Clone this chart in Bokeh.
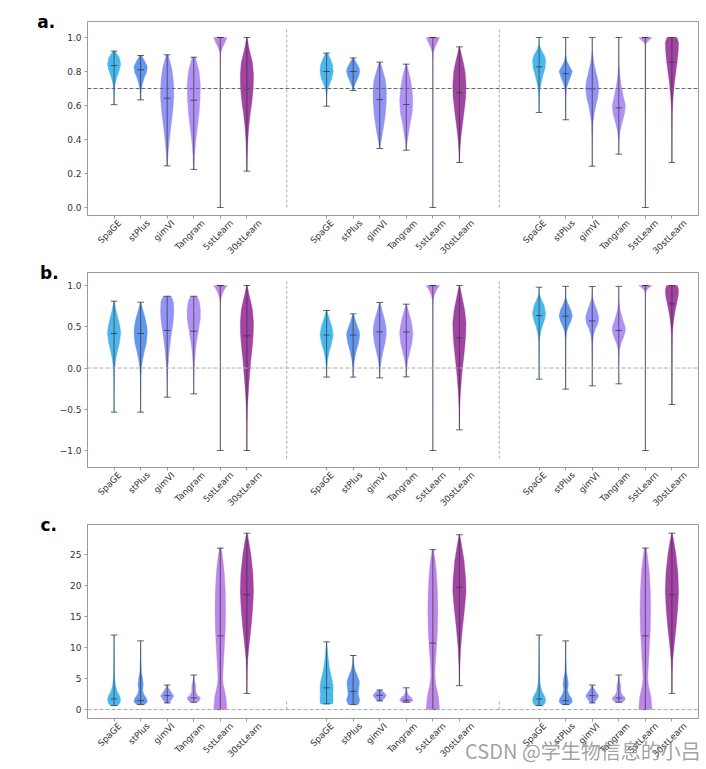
import math
from bokeh.plotting import figure
from bokeh.models import (Range1d, FixedTicker, LinearAxis, Span,
                          CustomJSTickFormatter, ColumnDataSource)
from bokeh.layouts import column
from bokeh.embed import file_html
from bokeh.resources import INLINE

# ---------------- data ----------------
methods = ["SpaGE", "stPlus", "gimVI", "Tangram", "5stLearn", "30stLearn"]
method_colors = ["#41b4ec", "#5b91ec", "#8c8ef5", "#ac8cf6", "#ba7fe8", "#9d3a9f"]

# panel a
a_max = [0.92, 0.894, 0.898, 0.884, 1.0, 1.0,
         0.908, 0.88, 0.855, 0.843, 1.0, 0.945,
         1.0, 1.0, 1.0, 1.0, 1.0, 1.0]
a_min = [0.605, 0.633, 0.245, 0.224, 0.0, 0.214,
         0.596, 0.688, 0.347, 0.337, 0.0, 0.265,
         0.559, 0.516, 0.243, 0.314, 0.0, 0.265]
a_med = [0.835, 0.81, 0.643, 0.631, 1.0, 0.698,
         0.80, 0.80, 0.635, 0.606, 1.0, 0.675,
         0.827, 0.788, 0.698, 0.586, 1.0, 0.855]
a_shapes = [
    [(0.605, 0.02), (0.644, 0.03), (0.684, 0.06), (0.723, 0.15), (0.763, 0.4), (0.802, 0.75), (0.841, 1.0), (0.881, 0.8), (0.92, 0.15)],
    [(0.633, 0.03), (0.666, 0.05), (0.698, 0.12), (0.731, 0.3), (0.764, 0.55), (0.796, 0.9), (0.829, 1.0), (0.861, 0.6), (0.894, 0.15)],
    [(0.245, 0.05), (0.327, 0.15), (0.408, 0.35), (0.49, 0.6), (0.571, 0.85), (0.653, 1.0), (0.735, 0.95), (0.816, 0.7), (0.898, 0.15)],
    [(0.224, 0.05), (0.307, 0.12), (0.389, 0.3), (0.472, 0.55), (0.554, 0.8), (0.637, 0.95), (0.719, 1.0), (0.802, 0.8), (0.884, 0.25)],
    [(0.0, 0.0), (0.85, 0.01), (0.91, 0.06), (0.94, 0.3), (0.97, 0.7), (1.0, 1.0)],
    [(0.214, 0.02), (0.3, 0.06), (0.4, 0.15), (0.48, 0.3), (0.55, 0.5), (0.62, 0.75), (0.7, 0.95), (0.78, 1.0), (0.85, 0.85), (0.9, 0.55), (0.95, 0.25), (1.0, 0.05)],
    [(0.596, 0.02), (0.65, 0.03), (0.69, 0.12), (0.72, 0.4), (0.76, 0.8), (0.80, 1.0), (0.84, 0.9), (0.88, 0.5), (0.908, 0.15)],
    [(0.688, 0.05), (0.71, 0.15), (0.74, 0.45), (0.77, 0.8), (0.80, 1.0), (0.82, 0.9), (0.85, 0.5), (0.88, 0.1)],
    [(0.347, 0.05), (0.38, 0.15), (0.42, 0.35), (0.48, 0.6), (0.55, 0.85), (0.63, 1.0), (0.70, 1.0), (0.75, 0.85), (0.80, 0.5), (0.855, 0.1)],
    [(0.337, 0.04), (0.38, 0.12), (0.44, 0.35), (0.5, 0.6), (0.56, 0.9), (0.63, 1.0), (0.70, 0.85), (0.75, 0.65), (0.80, 0.35), (0.843, 0.08)],
    [(0.0, 0.0), (0.85, 0.01), (0.91, 0.06), (0.94, 0.3), (0.97, 0.65), (1.0, 1.0)],
    [(0.265, 0.02), (0.35, 0.1), (0.42, 0.25), (0.5, 0.5), (0.58, 0.75), (0.65, 0.95), (0.72, 1.0), (0.8, 0.85), (0.85, 0.6), (0.9, 0.3), (0.945, 0.05)],
    [(0.559, 0.02), (0.65, 0.05), (0.70, 0.15), (0.74, 0.35), (0.78, 0.6), (0.82, 0.9), (0.86, 1.0), (0.89, 0.85), (0.93, 0.3), (0.96, 0.03), (1.0, 0.0)],
    [(0.516, 0.01), (0.65, 0.04), (0.70, 0.12), (0.73, 0.35), (0.77, 0.75), (0.80, 1.0), (0.83, 0.6), (0.86, 0.2), (0.9, 0.02), (1.0, 0.0)],
    [(0.243, 0.01), (0.4, 0.03), (0.5, 0.12), (0.55, 0.3), (0.6, 0.55), (0.65, 0.85), (0.70, 1.0), (0.74, 0.9), (0.8, 0.55), (0.86, 0.2), (0.92, 0.03), (1.0, 0.0)],
    [(0.314, 0.02), (0.4, 0.06), (0.45, 0.2), (0.5, 0.5), (0.55, 0.85), (0.60, 1.0), (0.66, 0.65), (0.72, 0.35), (0.78, 0.15), (0.85, 0.03), (1.0, 0.0)],
    [(0.0, 0.0), (0.96, 0.05), (0.97, 0.2), (0.985, 0.6), (1.0, 1.0)],
    [(0.265, 0.01), (0.45, 0.02), (0.55, 0.05), (0.62, 0.12), (0.68, 0.25), (0.74, 0.4), (0.8, 0.6), (0.86, 0.8), (0.92, 0.95), (0.97, 1.0), (1.0, 0.75)],
]
a_yticks = [0.0, 0.2, 0.4, 0.6, 0.8, 1.0]
a_ref = 0.7
a_sep = (0.0, 1.05)

# panel b
b_max = [0.81, 0.798, 0.87, 0.87, 1.0, 1.0,
         0.697, 0.657, 0.794, 0.774, 1.0, 1.0,
         0.98, 0.99, 0.988, 0.99, 1.0, 1.0]
b_min = [-0.535, -0.535, -0.354, -0.313, -1.0, -1.0,
         -0.11, -0.11, -0.119, -0.107, -1.0, -0.75,
         -0.135, -0.256, -0.216, -0.192, -1.0, -0.442]
b_med = [0.418, 0.418, 0.455, 0.446, 1.0, 0.39,
         0.40, 0.40, 0.438, 0.438, 1.0, 0.366,
         0.636, 0.628, 0.572, 0.455, 1.0, 0.778]
b_shapes = [
    [(-0.535, 0.01), (-0.3, 0.02), (-0.1, 0.05), (0.0, 0.1), (0.1, 0.25), (0.2, 0.5), (0.3, 0.8), (0.42, 1.0), (0.5, 0.9), (0.6, 0.6), (0.7, 0.3), (0.81, 0.05)],
    [(-0.535, 0.01), (-0.3, 0.02), (-0.1, 0.05), (0.0, 0.12), (0.1, 0.3), (0.2, 0.55), (0.3, 0.85), (0.42, 1.0), (0.5, 0.95), (0.6, 0.7), (0.7, 0.35), (0.798, 0.05)],
    [(-0.354, 0.01), (-0.15, 0.04), (0.0, 0.1), (0.1, 0.2), (0.2, 0.3), (0.3, 0.45), (0.4, 0.6), (0.5, 0.8), (0.6, 0.95), (0.7, 1.0), (0.8, 0.95), (0.87, 0.6)],
    [(-0.313, 0.01), (-0.15, 0.03), (0.0, 0.08), (0.1, 0.15), (0.2, 0.25), (0.3, 0.4), (0.4, 0.6), (0.5, 0.8), (0.6, 1.0), (0.7, 1.0), (0.8, 0.85), (0.87, 0.5)],
    [(-1.0, 0.0), (0.7, 0.01), (0.8, 0.04), (0.85, 0.12), (0.9, 0.3), (0.95, 0.6), (1.0, 1.0)],
    [(-1.0, 0.01), (-0.7, 0.03), (-0.5, 0.08), (-0.35, 0.18), (-0.2, 0.3), (-0.05, 0.45), (0.1, 0.6), (0.25, 0.8), (0.4, 0.95), (0.55, 1.0), (0.7, 0.85), (0.8, 0.6), (0.9, 0.3), (1.0, 0.05)],
    [(-0.11, 0.02), (0.0, 0.05), (0.1, 0.15), (0.2, 0.4), (0.3, 0.75), (0.4, 1.0), (0.5, 0.8), (0.6, 0.4), (0.697, 0.05)],
    [(-0.11, 0.02), (0.0, 0.07), (0.1, 0.2), (0.2, 0.45), (0.3, 0.8), (0.4, 1.0), (0.45, 0.9), (0.55, 0.45), (0.657, 0.05)],
    [(-0.119, 0.02), (0.0, 0.08), (0.1, 0.25), (0.2, 0.5), (0.3, 0.8), (0.42, 1.0), (0.5, 0.95), (0.6, 0.7), (0.7, 0.35), (0.794, 0.05)],
    [(-0.107, 0.02), (0.0, 0.08), (0.1, 0.25), (0.2, 0.55), (0.3, 0.85), (0.42, 1.0), (0.5, 0.9), (0.6, 0.65), (0.7, 0.3), (0.774, 0.05)],
    [(-1.0, 0.0), (0.7, 0.01), (0.8, 0.04), (0.85, 0.12), (0.9, 0.3), (0.95, 0.6), (1.0, 1.0)],
    [(-0.75, 0.01), (-0.5, 0.05), (-0.35, 0.12), (-0.2, 0.25), (-0.05, 0.4), (0.1, 0.6), (0.25, 0.8), (0.4, 0.95), (0.55, 1.0), (0.7, 0.8), (0.8, 0.55), (0.9, 0.3), (1.0, 0.05)],
    [(-0.135, 0.01), (0.2, 0.03), (0.35, 0.08), (0.42, 0.2), (0.5, 0.45), (0.58, 0.8), (0.66, 1.0), (0.76, 0.75), (0.84, 0.3), (0.9, 0.05), (0.98, 0.01)],
    [(-0.256, 0.01), (0.1, 0.02), (0.35, 0.05), (0.44, 0.15), (0.5, 0.4), (0.56, 0.75), (0.63, 1.0), (0.7, 0.8), (0.78, 0.35), (0.85, 0.05), (0.99, 0.01)],
    [(-0.216, 0.01), (0.1, 0.03), (0.3, 0.08), (0.4, 0.2), (0.48, 0.5), (0.55, 0.9), (0.62, 1.0), (0.7, 0.7), (0.78, 0.35), (0.85, 0.08), (0.988, 0.01)],
    [(-0.192, 0.01), (0.1, 0.03), (0.22, 0.1), (0.3, 0.35), (0.38, 0.75), (0.45, 1.0), (0.5, 0.95), (0.6, 0.55), (0.7, 0.2), (0.8, 0.04), (0.99, 0.01)],
    [(-1.0, 0.0), (0.85, 0.01), (0.91, 0.03), (0.94, 0.15), (0.97, 0.5), (1.0, 1.0)],
    [(-0.442, 0.01), (0.2, 0.03), (0.4, 0.07), (0.5, 0.15), (0.6, 0.3), (0.7, 0.5), (0.8, 0.75), (0.88, 0.95), (0.95, 1.0), (1.0, 0.8)],
]
b_yticks = [-1.0, -0.5, 0.0, 0.5, 1.0]
b_ref = 0.0
b_sep = (-1.1, 1.05)

# panel c
c_max = [12.0, 11.06, 3.95, 5.56, 26.0, 28.4,
         10.9, 8.7, 3.15, 3.5, 25.75, 28.15,
         12.0, 11.06, 3.95, 5.56, 26.0, 28.4]
c_min = [0.64, 0.8, 1.07, 1.17, 0.0, 2.6,
         0.9, 0.8, 1.39, 1.17, 0.0, 3.85,
         0.64, 0.8, 1.07, 1.17, 0.0, 2.6]
c_med = [1.71, 1.44, 2.24, 1.87, 11.86, 18.5,
         3.5, 2.93, 2.3, 1.5, 10.7, 19.7,
         1.71, 1.44, 2.24, 1.87, 11.86, 18.5]
c_shapes = [
    [(0.64, 0.55), (1.0, 0.85), (1.6, 1.0), (2.2, 0.85), (3.0, 0.45), (4.0, 0.2), (5.0, 0.1), (7.0, 0.05), (9.0, 0.03), (12.0, 0.01)],
    [(0.8, 0.6), (1.2, 1.0), (1.8, 0.9), (2.5, 0.45), (3.2, 0.3), (4.0, 0.4), (5.0, 0.3), (6.0, 0.12), (8.0, 0.04), (11.06, 0.01)],
    [(1.07, 0.25), (1.5, 0.6), (2.2, 1.0), (3.0, 0.5), (3.5, 0.2), (3.95, 0.05)],
    [(1.17, 0.5), (1.5, 0.9), (1.9, 1.0), (2.4, 0.5), (3.0, 0.3), (3.8, 0.3), (4.5, 0.15), (5.56, 0.03)],
    [(0.0, 1.0), (2.0, 0.85), (4.0, 0.45), (5.0, 0.35), (7.0, 0.45), (10.0, 0.6), (13.0, 0.75), (16.0, 0.8), (19.0, 0.75), (22.0, 0.6), (24.0, 0.4), (26.0, 0.15)],
    [(2.6, 0.01), (6.0, 0.05), (8.0, 0.12), (10.0, 0.3), (13.0, 0.6), (16.0, 0.85), (19.0, 1.0), (22.0, 0.9), (25.0, 0.6), (27.0, 0.3), (28.4, 0.05)],
    [(0.9, 0.8), (1.5, 0.9), (2.5, 0.85), (3.5, 0.9), (4.5, 0.8), (5.5, 0.6), (7.0, 0.35), (8.5, 0.2), (10.9, 0.03)],
    [(0.8, 0.6), (1.5, 0.8), (2.5, 0.6), (3.5, 0.7), (4.5, 0.75), (5.5, 0.5), (6.5, 0.2), (7.5, 0.07), (8.7, 0.02)],
    [(1.39, 0.3), (1.9, 0.8), (2.3, 1.0), (2.7, 0.7), (3.15, 0.2)],
    [(1.17, 0.7), (1.5, 1.0), (1.9, 0.8), (2.3, 0.35), (2.8, 0.15), (3.5, 0.05)],
    [(0.0, 1.0), (2.0, 0.85), (4.0, 0.45), (5.5, 0.3), (7.0, 0.35), (10.0, 0.55), (13.0, 0.7), (16.0, 0.75), (19.0, 0.7), (22.0, 0.55), (24.0, 0.35), (25.75, 0.1)],
    [(3.85, 0.01), (7.0, 0.07), (10.0, 0.2), (13.0, 0.45), (16.0, 0.75), (19.0, 1.0), (21.0, 0.95), (24.0, 0.7), (26.0, 0.4), (28.15, 0.05)],
    [(0.64, 0.6), (1.0, 0.9), (1.6, 1.0), (2.2, 0.8), (3.0, 0.4), (4.0, 0.18), (5.0, 0.09), (7.0, 0.05), (9.0, 0.03), (12.0, 0.01)],
    [(0.8, 0.6), (1.2, 1.0), (1.8, 0.9), (2.5, 0.45), (3.2, 0.3), (4.0, 0.4), (5.0, 0.3), (6.0, 0.12), (8.0, 0.04), (11.06, 0.01)],
    [(1.07, 0.25), (1.5, 0.6), (2.2, 1.0), (3.0, 0.5), (3.5, 0.2), (3.95, 0.05)],
    [(1.17, 0.5), (1.5, 0.9), (1.9, 1.0), (2.4, 0.5), (3.0, 0.3), (3.8, 0.3), (4.5, 0.15), (5.56, 0.03)],
    [(0.0, 1.0), (2.0, 0.85), (4.0, 0.45), (5.0, 0.35), (7.0, 0.45), (10.0, 0.6), (13.0, 0.75), (16.0, 0.8), (19.0, 0.75), (22.0, 0.6), (24.0, 0.4), (26.0, 0.15)],
    [(2.6, 0.01), (6.0, 0.05), (8.0, 0.12), (10.0, 0.3), (13.0, 0.6), (16.0, 0.85), (19.0, 1.0), (22.0, 0.9), (25.0, 0.6), (27.0, 0.3), (28.4, 0.05)],
]
c_yticks = [0, 5, 10, 15, 20, 25]
c_ref = 0.0
c_sep = (0.0, 1.6)

watermark = "CSDN @学生物信息的小吕"

# ---------------- drawing ----------------
TICK_FONT = "DejaVu Sans"
GRAY = "#9a9a9a"
N_GROUPS = 3
GROUP_STEP = 8
X_MAX = 23
PAGE_W = 700
X_LABEL_SIZE = 8.8


def slot_positions():
    return [g * GROUP_STEP + k + 1 for g in range(N_GROUPS) for k in range(len(methods))]


def make_panel(maxs, mins, meds, shapes, yticks, ydec, yr, ref, ref_color, sep,
               letter, letter_standoff, height, bl, bt, bb):
    p = figure(width=PAGE_W, height=height, x_range=Range1d(0, X_MAX),
               y_range=Range1d(*yr), output_backend="svg", toolbar_location=None,
               min_border_left=bl, min_border_right=2, min_border_top=bt,
               min_border_bottom=bb)
    p.grid.visible = False
    p.outline_line_color = GRAY
    p.outline_line_width = 1
    p.background_fill_color = "white"
    p.border_fill_color = "white"

    fw = PAGE_W - bl - 2
    xpx = fw / X_MAX

    pos = slot_positions()
    n = len(methods)

    # violins
    xs, ys, cols = [], [], []
    for i, shape in enumerate(shapes):
        yv = [s[0] for s in shape]
        wv = [s[1] for s in shape]
        m = max(wv)
        half = [0.25 * w / m for w in wv]
        x = pos[i]
        xs.append([x + h for h in half] + [x - h for h in reversed(half)])
        ys.append(yv + yv[::-1])
        cols.append(method_colors[i % n])
    src = ColumnDataSource(dict(xs=xs, ys=ys, c=cols))
    p.patches("xs", "ys", source=src, fill_color="c", fill_alpha=0.95,
              line_color="c", line_width=0.6, line_alpha=0.6)

    # whiskers, caps, medians
    lc = "#333333"
    p.segment(x0=pos, y0=mins, x1=pos, y1=maxs, line_color=lc, line_alpha=0.7, line_width=1)
    for arr in (mins, maxs, meds):
        p.segment(x0=[x - 0.125 for x in pos], y0=arr, x1=[x + 0.125 for x in pos], y1=arr,
                  line_color=lc, line_alpha=0.75, line_width=1)

    # group separators
    sx = [(g + 1) * GROUP_STEP - 0.5 for g in range(N_GROUPS - 1)]
    p.segment(x0=sx, y0=[sep[0]] * len(sx), x1=sx, y1=[sep[1]] * len(sx),
              line_color="#aaaaaa", line_dash="3 2", line_width=1)

    # reference line
    p.add_layout(Span(location=ref, dimension="width", line_color=ref_color,
                      line_dash="4 2", line_width=1))

    # y axis (panel letter as a horizontal axis label at the top end)
    ya = p.yaxis[0]
    ya.ticker = FixedTicker(ticks=yticks)
    ya.formatter = CustomJSTickFormatter(args=dict(dec=ydec),
                                         code="return tick.toFixed(dec).replace('-', '\u2212');")
    ya.major_tick_out = 3
    ya.major_tick_in = 0
    ya.minor_tick_out = 0
    ya.minor_tick_in = 0
    ya.axis_line_color = GRAY
    ya.major_tick_line_color = GRAY
    ya.major_label_text_font = TICK_FONT
    ya.major_label_text_font_size = "9px"
    ya.major_label_text_color = "#333333"
    ya.major_label_standoff = 3
    ya.axis_label = letter
    ya.axis_label_orientation = "horizontal"
    ya.axis_label_align = "end"
    ya.axis_label_standoff = letter_standoff
    ya.axis_label_text_font = "DejaVu Sans"
    ya.axis_label_text_font_style = "bold"
    ya.axis_label_text_font_size = "17px"
    ya.axis_label_text_color = "black"

    # x tick marks (labels empty)
    xa = p.xaxis[0]
    xa.ticker = FixedTicker(ticks=pos)
    xa.formatter = CustomJSTickFormatter(code="return '';")
    xa.major_label_standoff = 0
    xa.major_tick_out = 3
    xa.major_tick_in = 0
    xa.minor_tick_out = 0
    xa.minor_tick_in = 0
    xa.axis_line_color = GRAY
    xa.major_tick_line_color = GRAY

    # rotated labels, shifted so that each rotated box is centred on its tick
    names = [methods[i % n] for i in range(len(pos))]
    char_w = 0.6 * X_LABEL_SIZE
    lab_pos = [x + (0.354 * len(nm) * char_w - 3.5) / xpx for x, nm in zip(pos, names)]
    la = LinearAxis(ticker=FixedTicker(ticks=lab_pos),
                    formatter=CustomJSTickFormatter(
                        args=dict(pos=lab_pos, names=names),
                        code="""
let best = 0, bd = 1e9;
for (let k = 0; k < pos.length; k++) { const d = Math.abs(pos[k] - tick); if (d < bd) { bd = d; best = k; } }
return names[best];"""))
    la.major_label_orientation = math.pi / 4
    la.major_tick_out = 0
    la.major_tick_in = 0
    la.minor_tick_out = 0
    la.minor_tick_in = 0
    la.axis_line_color = None
    la.major_label_standoff = 3
    la.major_label_text_font = TICK_FONT
    la.major_label_text_font_size = f"{X_LABEL_SIZE}px"
    la.major_label_text_color = "#333333"
    p.add_layout(la, "below")
    return p


pa = make_panel(a_max, a_min, a_med, a_shapes, a_yticks, 1, (-0.047, 1.094),
                a_ref, "#666666", a_sep, "a.", 9, 262, 80, 21, 47)
pb = make_panel(b_max, b_min, b_med, b_shapes, b_yticks, 1, (-1.206, 1.158),
                b_ref, "#aaaaaa", b_sep, "b.", -2, 252, 87, 10, 47)
pc = make_panel(c_max, c_min, c_med, c_shapes, c_yticks, 0, (-1.44, 29.8),
                c_ref, "#aaaaaa", c_sep, "c.", 10, 253, 77, 10, 49)

# watermark: label of an extra tick-less axis under panel c; the axis label is
# centred on the frame, so ideographic-space padding moves the visible text right
WM_SIZE = 20
pad = "\u3000" * 19
wm_axis = LinearAxis(ticker=FixedTicker(ticks=[]),
                     axis_line_color=None, major_tick_out=0, major_tick_in=0,
                     minor_tick_out=0, minor_tick_in=0, major_label_text_font_size="9px")
wm_axis.axis_label = pad + watermark
wm_axis.axis_label_standoff = -30
wm_axis.axis_label_text_font = "Noto Sans CJK SC"
wm_axis.axis_label_text_font_style = "normal"
wm_axis.axis_label_text_font_size = f"{WM_SIZE}px"
wm_axis.axis_label_text_color = "#8a8a8a"
wm_axis.axis_label_text_alpha = 0.8
pc.add_layout(wm_axis, "below")

layout = column(pa, pb, pc, spacing=0)
open("out.html", "w").write(file_html(layout, INLINE))
